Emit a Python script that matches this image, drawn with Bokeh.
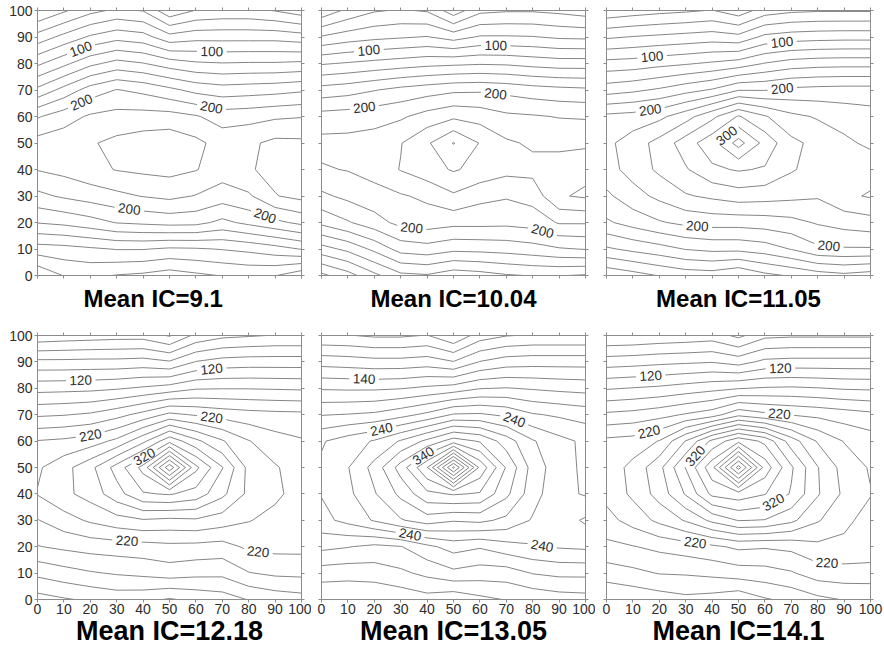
import numpy as np
import contourpy
from bokeh.plotting import figure
from bokeh.layouts import gridplot
from bokeh.models import Range1d, LinearAxis, FixedTicker, Title
from bokeh.core.properties import value
from bokeh.embed import file_html
from bokeh.resources import INLINE

# ---------------- data ----------------
grid_x = [0, 10, 20, 30, 40, 50, 60, 70, 80, 90, 100]
grid_y_top_down = [100, 90, 80, 70, 60, 50, 40, 30, 20, 10, 0]
tick_values = [0, 10, 20, 30, 40, 50, 60, 70, 80, 90, 100]
contour_levels = list(range(20, 500, 20))

titles = ["Mean IC=9.1", "Mean IC=10.04", "Mean IC=11.05",
          "Mean IC=12.18", "Mean IC=13.05", "Mean IC=14.1"]

# rows from y=100 (top) down to y=0, columns x=0..100
ic_9_1 = [
    [0, 17, 34, 44, 39, 5, 21, 25, 25, 19, 9],
    [48, 66, 83, 93, 88, 67, 73, 73, 73, 73, 69],
    [96, 115, 135, 147, 141, 130, 123, 121, 122, 122, 124],
    [145, 167, 189, 201, 195, 185, 174, 169, 171, 173, 177],
    [198, 211, 223, 227, 228, 228, 222, 211, 213, 217, 219],
    [228, 232, 238, 245, 250, 253, 245, 232, 236, 245, 244],
    [221, 226, 234, 241, 244, 246, 241, 230, 238, 246, 248],
    [195, 203, 209, 215, 221, 225, 219, 210, 217, 239, 246],
    [161, 165, 172, 181, 184, 187, 186, 175, 185, 195, 205],
    [111, 113, 117, 121, 121, 117, 118, 121, 125, 132, 141],
    [62, 81, 84, 79, 76, 70, 76, 81, 84, 81, 66],
]
ic_10_04 = [
    [5, 25, 38, 42, 38, 8, 35, 38, 38, 35, 30],
    [62, 70, 75, 78, 81, 72, 82, 82, 81, 77, 76],
    [118, 122, 126, 130, 134, 136, 138, 137, 133, 130, 130],
    [168, 172, 179, 186, 191, 196, 197, 194, 189, 186, 184],
    [208, 210, 213, 217, 228, 236, 232, 224, 222, 219, 218],
    [226, 226, 228, 239, 257, 281, 259, 243, 237, 236, 236],
    [218, 221, 228, 241, 252, 262, 254, 246, 246, 248, 255],
    [196, 205, 212, 218, 224, 237, 226, 222, 228, 258, 263],
    [165, 178, 192, 206, 210, 206, 206, 205, 208, 222, 222],
    [112, 125, 145, 168, 172, 165, 166, 168, 172, 178, 181],
    [55, 72, 95, 115, 118, 108, 112, 118, 121, 121, 118],
]
ic_11_05 = [
    [5, 10, 14, 17, 21, 8, 30, 36, 38, 38, 38],
    [57, 61, 64, 67, 70, 66, 85, 90, 92, 93, 93],
    [107, 109, 114, 118, 123, 129, 141, 149, 152, 153, 153],
    [151, 156, 163, 173, 182, 199, 199, 205, 207, 208, 208],
    [205, 208, 215, 232, 255, 282, 262, 245, 238, 232, 228],
    [215, 230, 247, 270, 293, 328, 293, 265, 254, 244, 236],
    [212, 228, 244, 258, 276, 282, 278, 262, 252, 250, 252],
    [196, 212, 225, 238, 244, 250, 248, 245, 242, 256, 262],
    [177, 188, 198, 205, 208, 208, 210, 214, 222, 228, 232],
    [137, 145, 152, 161, 165, 165, 170, 181, 196, 198, 198],
    [84, 92, 101, 108, 110, 101, 115, 122, 130, 135, 130],
]
ic_12_18 = [
    [25, 28, 30, 32, 32, 18, 45, 55, 58, 61, 61],
    [85, 85, 86, 86, 88, 82, 101, 108, 110, 110, 110],
    [133, 134, 135, 138, 143, 149, 158, 159, 159, 158, 157],
    [177, 179, 183, 193, 207, 225, 218, 212, 208, 206, 205],
    [221, 224, 230, 245, 275, 314, 285, 262, 241, 228, 222],
    [237, 253, 274, 308, 347, 434, 345, 301, 254, 242, 230],
    [241, 255, 268, 292, 318, 322, 312, 285, 255, 244, 232],
    [219, 232, 243, 252, 258, 255, 257, 250, 241, 234, 228],
    [199, 204, 208, 210, 212, 215, 214, 212, 224, 226, 226],
    [165, 172, 178, 182, 185, 190, 186, 185, 199, 204, 205],
    [132, 138, 143, 148, 146, 138, 145, 150, 161, 168, 172],
]
ic_13_05 = [
    [62, 61, 57, 57, 61, 42, 70, 79, 82, 82, 82],
    [112, 110, 107, 107, 110, 101, 121, 130, 132, 132, 132],
    [158, 157, 157, 159, 164, 169, 179, 181, 178, 175, 173],
    [199, 201, 204, 213, 225, 242, 243, 236, 222, 217, 212],
    [238, 250, 262, 282, 305, 330, 318, 290, 262, 246, 236],
    [243, 259, 287, 329, 379, 484, 375, 318, 272, 248, 236],
    [241, 255, 278, 305, 335, 342, 338, 305, 268, 246, 238],
    [234, 246, 262, 278, 290, 282, 285, 275, 258, 250, 263],
    [205, 201, 195, 199, 215, 228, 222, 232, 238, 242, 244],
    [170, 168, 170, 176, 185, 195, 190, 190, 201, 205, 205],
    [141, 141, 141, 146, 152, 145, 155, 161, 165, 170, 172],
]
ic_14_1 = [
    [41, 42, 45, 47, 50, 35, 55, 57, 57, 57, 57],
    [90, 92, 95, 97, 99, 92, 105, 107, 107, 107, 107],
    [138, 141, 144, 149, 154, 159, 162, 163, 161, 158, 157],
    [184, 187, 193, 202, 211, 235, 225, 219, 215, 210, 205],
    [225, 228, 241, 281, 325, 355, 335, 290, 258, 239, 230],
    [228, 246, 274, 321, 374, 468, 372, 323, 281, 252, 238],
    [226, 244, 268, 302, 345, 352, 341, 318, 282, 256, 241],
    [213, 228, 245, 262, 285, 301, 299, 285, 262, 245, 232],
    [195, 199, 205, 210, 216, 224, 222, 225, 235, 235, 232],
    [170, 175, 181, 182, 185, 190, 192, 198, 210, 212, 212],
    [141, 145, 150, 155, 152, 145, 158, 165, 175, 181, 182],
]
panels_z = [ic_9_1, ic_10_04, ic_11_05, ic_12_18, ic_13_05, ic_14_1]

# contour labels: (level, approx x, approx y)
label_specs = [
    [(100, 16.4, 85.5), (100, 66, 84.5), (200, 16.4, 66), (200, 66, 63.8), (200, 34.5, 23), (200, 86, 22)],
    [(100, 18, 84.6), (100, 66, 86.5), (200, 16, 65.4), (200, 66, 69.2), (200, 34, 16.6), (200, 83.6, 16.3)],
    [(100, 17.3, 82.4), (100, 66.5, 88), (200, 16.7, 61.6), (200, 66.5, 71.3), (300, 45, 53.5),
     (200, 34.3, 17), (200, 84.2, 11)],
    [(120, 16.4, 82.5), (120, 66, 87), (220, 20.1, 62), (220, 66, 69), (320, 40.3, 54.4),
     (220, 34, 24), (220, 83.6, 18.4)],
    [(140, 16.1, 82.9), (240, 23, 63.3), (240, 72.9, 67.7), (340, 38.2, 55), (240, 33.8, 25.9),
     (240, 83.6, 20.3)],
    [(120, 16.7, 84.8), (120, 65.9, 87), (220, 16, 63.9), (220, 65.5, 70.3), (320, 33, 55),
     (320, 64, 35.4), (220, 33.7, 22.2), (220, 83.6, 14.6)],
]

# ---------------- styling ----------------
LINE_COLOR = "#858585"
AXIS_COLOR = "#8c8c8c"
TEXT_COLOR = "#2e2e2e"
FONT = "Liberation Sans"
GAP_HALF = 5.6   # half-gap (data units) cut in a contour line for its label
FRAME = 264


def arc(L):
    seg = np.hypot(np.diff(L[:, 0]), np.diff(L[:, 1]))
    return np.concatenate([[0.0], np.cumsum(seg)])


def nearest(lines, px, py):
    best = None
    p = np.array([px, py])
    for li, L in enumerate(lines):
        cum = arc(L)
        for k in range(len(L) - 1):
            a = L[k]
            d = L[k + 1] - a
            l2 = float(d @ d)
            t = 0.0 if l2 == 0 else float(np.clip(((p - a) @ d) / l2, 0, 1))
            q = a + t * d
            dist = float(np.hypot(*(p - q)))
            if best is None or dist < best[0]:
                best = (dist, li, cum[k] + t * (cum[k + 1] - cum[k]), q)
    return best


def cut(L, cuts):
    cum = arc(L)
    total = cum[-1]
    closed = np.allclose(L[0], L[-1])
    ivs = []
    for s, h in cuts:
        a, b = s - h, s + h
        ivs.append((max(0.0, a), min(total, b)))
        if closed and a < 0:
            ivs.append((total + a, total))
        if closed and b > total:
            ivs.append((0.0, b - total))
    ivs.sort()
    keep = []
    start = 0.0
    for a, b in ivs:
        if a > start:
            keep.append((start, a))
        start = max(start, b)
    if start < total:
        keep.append((start, total))
    pieces = []
    for a, b in keep:
        if b - a < 1e-6:
            continue
        inner = (cum > a) & (cum < b)
        xs = [float(np.interp(a, cum, L[:, 0]))] + list(L[inner, 0]) + [float(np.interp(b, cum, L[:, 0]))]
        ys = [float(np.interp(a, cum, L[:, 1]))] + list(L[inner, 1]) + [float(np.interp(b, cum, L[:, 1]))]
        pieces.append((xs, ys))
    return pieces


def style_axis(ax, show_labels, standoff):
    ax.ticker = FixedTicker(ticks=tick_values)
    ax.axis_line_color = AXIS_COLOR
    ax.axis_line_width = 1
    ax.major_tick_line_color = AXIS_COLOR
    ax.major_tick_out = 3
    ax.major_tick_in = 0
    ax.minor_tick_line_color = None
    ax.major_label_text_font = FONT
    ax.major_label_standoff = standoff
    if show_labels:
        ax.major_label_text_font_size = "14px"
        ax.major_label_text_color = TEXT_COLOR
    else:
        ax.major_label_text_font_size = "0px"
        ax.major_label_text_color = None
        ax.major_label_text_alpha = 0


def make_panel(idx, show_x, show_y, bl, br, bb, fh, t_standoff, title_size, t_align, t_offset):
    z = np.array(panels_z[idx], dtype=float)[::-1]  # rows now y=0..100
    gy = np.array(grid_y_top_down[::-1], dtype=float)
    gx = np.array(grid_x, dtype=float)
    gen = contourpy.contour_generator(x=gx, y=gy, z=z, line_type="Separate")

    p = figure(frame_width=FRAME, frame_height=fh,
               x_range=Range1d(0, 100), y_range=Range1d(0, 100),
               output_backend="svg", toolbar_location=None,
               x_axis_location=None, y_axis_location=None,
               min_border_left=bl, min_border_right=br,
               min_border_top=10, min_border_bottom=bb)
    p.grid.visible = False
    p.outline_line_color = None
    p.background_fill_color = "white"

    specs = label_specs[idx]
    xs_all, ys_all = [], []
    lx, ly, lt, la = [], [], [], []
    for lev in contour_levels:
        lines = [np.asarray(L, dtype=float) for L in gen.lines(lev) if len(L) > 1]
        if not lines:
            continue
        cuts = {i: [] for i in range(len(lines))}
        for (slev, sx, sy) in specs:
            if slev != lev:
                continue
            res = nearest(lines, sx, sy)
            if res is None:
                continue
            _, li, s0, q = res
            L = lines[li]
            cum = arc(L)
            s1, s2 = max(0, s0 - 2.5), min(cum[-1], s0 + 2.5)
            dx = np.interp(s2, cum, L[:, 0]) - np.interp(s1, cum, L[:, 0])
            dy = np.interp(s2, cum, L[:, 1]) - np.interp(s1, cum, L[:, 1])
            ang = np.arctan2(dy, dx)
            if ang > np.pi / 2:
                ang -= np.pi
            if ang < -np.pi / 2:
                ang += np.pi
            lx.append(float(q[0])); ly.append(float(q[1]))
            lt.append(str(lev)); la.append(float(ang))
            cuts[li].append((s0, GAP_HALF))
        for i, L in enumerate(lines):
            if cuts[i]:
                for xs, ys in cut(L, cuts[i]):
                    xs_all.append(xs); ys_all.append(ys)
            else:
                xs_all.append(list(L[:, 0])); ys_all.append(list(L[:, 1]))

    p.multi_line(xs_all, ys_all, line_color=LINE_COLOR, line_width=1)
    p.text(x=lx, y=ly, text=lt, angle=la, text_align="center", text_baseline="middle",
           text_font=value(FONT), text_font_size="13.5px", text_color=TEXT_COLOR)

    for loc, show in (("below", show_x), ("above", False)):
        ax = LinearAxis()
        style_axis(ax, show, 1)
        p.add_layout(ax, loc)
    for loc, show in (("left", show_y), ("right", False)):
        ax = LinearAxis()
        style_axis(ax, show, 2)
        p.add_layout(ax, loc)

    t = Title(text=titles[idx], align=t_align, offset=t_offset, standoff=t_standoff,
              text_font=FONT, text_font_size=title_size, text_font_style="bold",
              text_color="#000000")
    p.add_layout(t, "below")
    return p


p1 = make_panel(0, False, True, 37, 10, 50, 265, 8, "24px", "left", 46)
p2 = make_panel(1, False, False, 10, 10, 50, 265, 8, "24px", "center", 0)
p3 = make_panel(2, False, False, 11, 13, 50, 265, 8, "24px", "center", 0)
p4 = make_panel(3, True, True, 37, 10, 47, 264, -5, "27px", "center", 0)
p5 = make_panel(4, True, False, 10, 10, 47, 264, -5, "27px", "center", 0)
p6 = make_panel(5, True, False, 11, 13, 47, 264, -5, "27px", "center", 0)

layout = gridplot([[p1, p2, p3], [p4, p5, p6]], toolbar_location=None)
open("out.html", "w").write(file_html(layout, INLINE))
